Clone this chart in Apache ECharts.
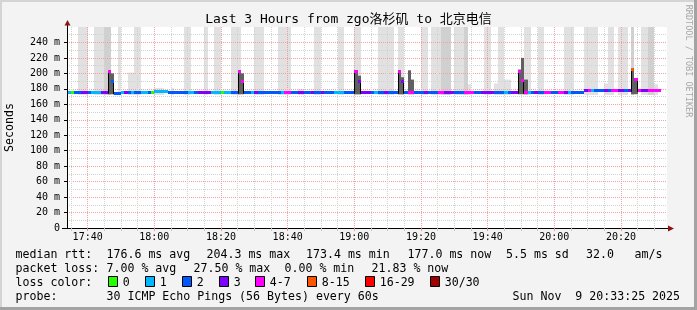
<!DOCTYPE html>
<html><head><meta charset="utf-8">
<script src="https://cdn.jsdelivr.net/npm/echarts@6/dist/echarts.min.js"></script>
<style>html,body{margin:0;padding:0;background:#f3f3f3}#c{width:697px;height:310px}</style>
</head><body><div id="c"></div><script>
// ---------- DATA ----------
const titleText = 'Last 3 Hours from zgo洛杉矶 to 北京电信';
const axisStartMin = 33.8;   // minutes after 17:00 at left edge of plot
const axisEndMin = 213.8;    // minutes after 17:00 at right edge
const firstStepMin = 34;     // first 60s step: 17:34
const majorTimeTicks = [40, 60, 80, 100, 120, 140, 160, 180, 200];
const minorTimeTicks = [35, 45, 50, 55, 65, 70, 75, 85, 90, 95, 105, 110, 115, 125, 130, 135, 145, 150, 155, 165, 170, 175, 185, 190, 195, 205, 210];
const yMax = 260, yStep = 20;

// median rtt per step (ms)
const median = [
 175,175,175,175,175,175,175,175,175,175,
 175,175,202,189,174.3,174.3,175,175,175,175,
 175,175,175,175,175,175,176,176,176,176,
 175,175,175,175,175,175,175,175,175,175,
 175,175,175,175,175,175,175,175,175,175,
 175,202,189,175,175,175,175,175,175,175,
 175,175,175,175,175,175,175,175,175,175,
 175,175,175,175,175,175,175,175,175,175,
 175,175,175,175,175,175,203,190,175,175,
 175,175,175,175,175,175,175,175,175,203,
 190,175,175,175,175,175,175,175,175,175,
 175,175,175,175,175,175,175,175,175,175,
 175,175,175,175,175,175,175,175,175,175,
 175,175,175,175,175,203,191,175,175,175,
 175,175,175,175,175,175,175,175,175,175,
 175,175,175,175,175,177.3,177.3,177.3,177.3,177.3,
 177.3,177.3,177.3,177.3,177.3,177.3,177.3,177.3,177.3,205,
 192,177.3,177.3,177.3,177.3,177.3,177.3,177.3
];
// loss bucket per step (index into lossLabels)
const lossIdx = [
 1,0,2,2,3,3,2,1,1,1,
 3,3,4,2,2,2,1,3,2,1,
 2,2,1,1,2,0,1,1,1,1,
 2,2,2,2,2,2,1,1,2,3,
 3,3,3,1,1,1,0,1,1,2,
 2,4,4,2,2,1,3,2,2,2,
 2,2,2,2,1,4,4,2,2,3,
 3,2,2,3,2,2,3,2,2,2,
 1,1,1,2,2,2,4,3,3,3,
 3,2,1,2,2,3,2,2,2,4,
 3,2,4,4,2,2,2,3,2,2,
 2,4,4,3,3,3,2,2,2,4,
 4,4,2,2,3,3,3,3,2,2,
 2,1,2,3,3,4,4,4,1,2,
 3,2,2,4,4,2,2,4,4,3,
 1,2,2,2,2,3,4,1,2,2,
 2,3,2,4,4,3,3,2,3,5,
 4,4,3,3,4,4,4,4
];
// smoke: [fromMinute, toMinute, topMs]  (260 = beyond top)
const smokeLow = 172;
const lightSmoke = [
 [37,40,260],[42,45,260],[49,50,260],[52,54,201],[54,56,260],[60,63,181],[65,66,181],
 [69,71,260],[75,76,260],[78,80,260],[83,86,260],[90,93,260],[97,101,260],[103,105,180],
 [108,110,260],[115,117,260],[120,122,260],[127,132,260],[133,135,260],[140,142,260],
 [143,146,260],[150,153,260],[154,155,186],[159,161,260],[162,163,187],[163,165,260],
 [165,167,192],[171,173,260],[175,177,260],[183,186,260],[189,193,260],[195,196,187],
 [196,198,260],[199,202,260],[206,208,260],[210,211,186]
];
const mediumSmoke = [[45,47,260],[146,149,260],[153,154,260],[203,204,260],[208,210,260]];
// dense smoke: [minute, topMs]
const denseSmoke = [
 [46,202],[47,200],[85,204],[86,200],[120,203],[121,197],[133,203],[134,195],
 [136,204],[137,192],[169,205],[170,220],[171,192],[203,205],[204,192]
];
const denseLow = 173;

const rttLabel = 'median rtt:';
const rttStats = ['176.6 ms avg','204.3 ms max','173.4 ms min','177.0 ms now','5.5 ms sd','32.0','am/s'];
const lossLabel = 'packet loss:';
const lossStats = ['7.00 % avg','27.50 % max','0.00 % min','21.83 % now'];
const lossColorLabel = 'loss color:';
const lossLabels = ['0','1','2','3','4-7','8-15','16-29','30/30'];
const probeLabel = 'probe:';
const probeText = '30 ICMP Echo Pings (56 Bytes) every 60s';
const dateText = 'Sun Nov  9 20:33:25 2025';
const creditText = 'RRDTOOL / TOBI OETIKER';
const yName = 'Seconds';

// ---------- STYLE / LAYOUT ----------
const LOSS_COLORS = ['#26ff00','#00b8ff','#0059ff','#7e00ff','#ff00ff','#ff5500','#ff0000','#a10000'];
const MONO = '"DejaVu Sans Mono", "Noto Sans CJK SC", monospace';
const LF = 11.6;
const rowY = [255.3, 269.3, 283.4, 297.3];
const rttX = [106.5, 206.5, 306, 407.5, 506, 586, 634.5];
const lossX = [106.5, 193.5, 284.5, 371.5];
const boxX = [108.5, 145.5, 182.5, 219.5, 255.5, 307.5, 365.5, 430.5];
const boxLabelDx = 14.2;

function fmtTime(m){ const h = 17 + Math.floor(m/60), mm = Math.round(m%60); return h + ':' + (mm<10?'0':'') + mm; }

const chart = echarts.init(document.getElementById('c'), null, {renderer:'canvas'});

function bandRenderer(color){
  return function(params, api){
    const a = api.coord([api.value(0), api.value(2)]);
    const b = api.coord([api.value(1), smokeLow]);
    const x0 = Math.round(a[0]), x1 = Math.round(b[0]);
    return {type:'rect', shape:{x:x0, y:a[1], width:x1-x0, height:b[1]-a[1]}, style:{fill:color}};
  };
}

const graphics = [];
function txt(x, y, s, opt){
  graphics.push(Object.assign({type:'text', x:x, y:y, silent:true, style:Object.assign({text:s, font:LF+'px '+MONO, fill:'#000', align:'left', verticalAlign:'middle'}, opt||{})}));
}
// frame
graphics.push({type:'rect', shape:{x:0,y:0,width:697,height:2}, style:{fill:'#d4d4d4'}, silent:true});
graphics.push({type:'rect', shape:{x:0,y:0,width:2,height:310}, style:{fill:'#d4d4d4'}, silent:true});
graphics.push({type:'rect', shape:{x:0,y:307,width:697,height:3}, style:{fill:'#a3a3a3'}, silent:true});
graphics.push({type:'rect', shape:{x:694,y:0,width:3,height:310}, style:{fill:'#a3a3a3'}, silent:true});
// axis extensions + arrows
graphics.push({type:'line', shape:{x1:67.5,y1:27,x2:67.5,y2:23}, style:{stroke:'#000',lineWidth:1}, silent:true});
graphics.push({type:'line', shape:{x1:62,y1:228.5,x2:67,y2:228.5}, style:{stroke:'#000',lineWidth:1}, silent:true});
graphics.push({type:'line', shape:{x1:667,y1:228.5,x2:669,y2:228.5}, style:{stroke:'#000',lineWidth:1}, silent:true});
graphics.push({type:'polygon', shape:{points:[[64.5,25.5],[70.5,25.5],[67.5,20]]}, style:{fill:'#8c1414'}, silent:true});
graphics.push({type:'polygon', shape:{points:[[668,225.5],[668,231.5],[674,228.5]]}, style:{fill:'#8c1414'}, silent:true});
// y name & credit
graphics.push({type:'text', x:10, y:127.5, rotation:Math.PI/2, silent:true, style:{text:yName, font:LF+'px '+MONO, fill:'#000', align:'center', verticalAlign:'middle'}});
graphics.push({type:'text', x:688, y:61, rotation:-Math.PI/2, silent:true, style:{text:creditText, font:'8.5px '+MONO, fill:'#a8a8a8', align:'center', verticalAlign:'middle'}});
// legend rows
txt(15.5, rowY[0], rttLabel);
rttStats.forEach((s,i)=>txt(rttX[i], rowY[0], s));
txt(15.5, rowY[1], lossLabel);
lossStats.forEach((s,i)=>txt(lossX[i], rowY[1], s));
txt(15.5, rowY[2], lossColorLabel);
lossLabels.forEach((s,i)=>{
  graphics.push({type:'rect', shape:{x:boxX[i], y:276.5, width:9, height:10}, style:{fill:LOSS_COLORS[i], stroke:'#000', lineWidth:1}, silent:true});
  txt(boxX[i]+boxLabelDx, rowY[2], s);
});
txt(15.5, rowY[3], probeLabel);
txt(106.5, rowY[3], probeText);
txt(512.5, rowY[3], dateText);
// title
graphics.push({type:'text', x:348.5, y:20, silent:true, style:{text:titleText, font:'13px '+MONO, fill:'#000', align:'center', verticalAlign:'middle'}});

const medianData = median.map((m,i)=>[firstStepMin+i, m, lossIdx[i]]);

const option = {
  backgroundColor:'#f3f3f3',
  animation:false,
  grid:{left:67, top:27, right:30, bottom:82, show:true, backgroundColor:'#ffffff', borderWidth:0, z:-10},
  xAxis:[{
    type:'value', min:axisStartMin, max:axisEndMin, position:'bottom',
    axisLine:{show:true, onZero:false, lineStyle:{color:'#000', width:1}},
    axisTick:{show:true, customValues:majorTimeTicks, length:3, lineStyle:{color:'#f08a8a'}},
    axisLabel:{show:true, customValues:majorTimeTicks, formatter:fmtTime, fontFamily:MONO, fontSize:10, color:'#000', margin:4},
    splitLine:{show:true, lineStyle:{color:'#f2a0a0', width:1, type:[1,1]}}
  },{
    type:'value', min:axisStartMin, max:axisEndMin, position:'bottom',
    axisLine:{show:false},
    axisTick:{show:true, customValues:minorTimeTicks, length:3, lineStyle:{color:'#c8c8c8'}},
    axisLabel:{show:false},
    splitLine:{show:true, lineStyle:{color:'#d2d2d2', width:1, type:[1,1]}}
  }],
  yAxis:{
    type:'value', min:0, max:yMax, interval:yStep,
    axisLine:{show:true, lineStyle:{color:'#000'}},
    axisTick:{show:true, length:3, lineStyle:{color:'#000'}},
    axisLabel:{formatter:v=>v===0?'0':v+' m', showMaxLabel:false, margin:7, fontFamily:MONO, fontSize:10, color:'#000'},
    splitLine:{show:true, showMaxLine:false, showMinLine:false, lineStyle:{color:'#f2a0a0', width:1, type:[1,1]}},
    minorTick:{show:false, splitNumber:2},
    minorSplitLine:{show:true, lineStyle:{color:'#d2d2d2', width:1, type:[1,1]}}
  },
  series:[
    {type:'custom', z:-2, clip:true, data:lightSmoke, encode:{x:[0,1], y:2}, renderItem:bandRenderer('#e1e1e1'), silent:true},
    {type:'custom', z:-2, clip:true, data:mediumSmoke, encode:{x:[0,1], y:2}, renderItem:bandRenderer('#d0d0d0'), silent:true},
    {type:'custom', z:3, clip:true, data:denseSmoke, encode:{x:0, y:1}, silent:true,
     renderItem:function(params, api){
       const a = api.coord([api.value(0), api.value(1)]);
       const b = api.coord([api.value(0)+1, denseLow]);
       const x0 = Math.round(a[0]), x1 = Math.round(b[0]);
       return {type:'rect', shape:{x:x0, y:a[1], width:x1-x0, height:b[1]-a[1]}, style:{fill:'#606060'}};
     }},
    {type:'custom', z:5, clip:true, data:medianData, encode:{x:0, y:1}, silent:true,
     renderItem:function(params, api){
       const i = params.dataIndex;
       const t = api.value(0), m = api.value(1), li = api.value(2);
       const a = api.coord([t, m]), b = api.coord([t+1, m]);
       const x0 = Math.round(a[0]), x1 = Math.round(b[0]);
       const yc = a[1];
       const ch = [];
       const prev = i>0 ? median[i-1] : m;
       const next = i<median.length-1 ? median[i+1] : m;
       if (prev < m-4){ const yp = api.coord([t, prev])[1]; ch.push({type:'line', shape:{x1:x0+0.5,y1:yc,x2:x0+0.5,y2:yp+1}, style:{stroke:'#000',lineWidth:1}}); }
       if (next < 180 && next < m-4){ const yn = api.coord([t, next])[1]; ch.push({type:'line', shape:{x1:x1-0.5,y1:yc,x2:x1-0.5,y2:yn+1}, style:{stroke:'#000',lineWidth:1}}); }
       ch.push({type:'rect', shape:{x:x0, y:Math.round(yc-1.5), width:x1-x0, height:3}, style:{fill:LOSS_COLORS[li]}});
       return {type:'group', children:ch};
     }}
  ],
  graphic:{elements:graphics}
};
chart.setOption(option);
</script></body></html>
